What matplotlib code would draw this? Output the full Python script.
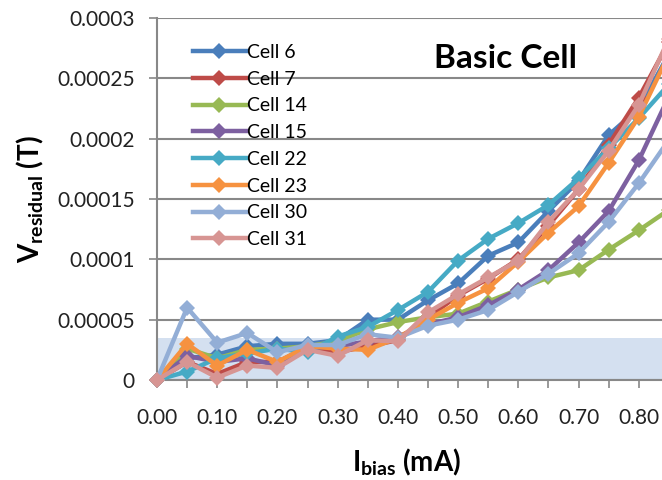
import matplotlib
matplotlib.use('Agg')
import matplotlib.pyplot as plt
import matplotlib.ticker as plticker

plt.rcParams['font.family'] = ['Lato', 'DejaVu Sans']
plt.rcParams['mathtext.fontset'] = 'custom'
plt.rcParams['mathtext.rm'] = 'Lato'
plt.rcParams['mathtext.bf'] = 'Lato:bold'

# bias current steps (mA)
ibias = [0.00, 0.05, 0.10, 0.15, 0.20, 0.25, 0.30, 0.35, 0.40,
         0.45, 0.50, 0.55, 0.60, 0.65, 0.70, 0.75, 0.80, 0.85]

# residual values in units of 1e-5 T
cell6 = [0, 1.8, 2.1, 2.8, 3.0, 3.0, 3.3, 5.0, 5.0, 6.6, 8.0, 10.3, 11.4, 14.0, 16.5, 20.3, 22.5, 27.0]
cell7 = [0, 1.5, 0.5, 1.5, 1.5, 2.7, 2.3, 2.8, 3.3, 5.2, 7.0, 8.4, 10.0, 12.8, 15.8, 19.5, 23.4, 28.0]
cell14 = [0, 2.6, 1.8, 2.5, 2.6, 2.8, 3.2, 4.2, 4.8, 5.2, 5.5, 6.5, 7.5, 8.5, 9.1, 10.8, 12.4, 14.1]
cell15 = [0, 2.0, 1.5, 1.8, 1.2, 2.6, 2.8, 3.2, 3.6, 4.6, 5.2, 6.2, 7.5, 9.1, 11.4, 14.0, 18.2, 23.5]
cell22 = [0, 0.7, 1.8, 2.2, 2.6, 2.3, 3.6, 4.4, 5.8, 7.3, 9.9, 11.7, 13.0, 14.5, 16.7, 19.2, 21.7, 24.5]
cell23 = [0, 3.0, 1.2, 2.5, 1.5, 2.8, 2.6, 2.5, 3.5, 5.0, 6.4, 7.6, 9.8, 12.2, 14.4, 18.0, 21.8, 27.0]
cell30 = [0, 6.0, 3.1, 3.9, 2.3, 2.9, 2.9, 3.8, 3.5, 4.5, 5.0, 5.8, 7.3, 8.8, 10.5, 13.1, 16.3, 19.9]
cell31 = [0, 1.5, 0.2, 1.2, 1.0, 2.5, 2.0, 3.3, 3.2, 5.6, 7.1, 8.5, 9.9, 13.1, 15.8, 19.0, 22.8, 28.3]

labels = ['Cell 6', 'Cell 7', 'Cell 14', 'Cell 15', 'Cell 22', 'Cell 23', 'Cell 30', 'Cell 31']
series = [cell6, cell7, cell14, cell15, cell22, cell23, cell30, cell31]
colors = ['#4A7EBB', '#BE4B48', '#98B954', '#7D60A0', '#46AAC5', '#F69240', '#93AED6', '#D79593']

ytick_vals = [0, 0.00005, 0.0001, 0.00015, 0.0002, 0.00025, 0.0003]
ytick_labels = ['0', '0.00005', '0.0001', '0.00015', '0.0002', '0.00025', '0.0003']
xtick_vals = [0.0, 0.1, 0.2, 0.3, 0.4, 0.5, 0.6, 0.7, 0.8]
xtick_labels = ['0.00', '0.10', '0.20', '0.30', '0.40', '0.50', '0.60', '0.70', '0.80']
threshold = 0.000035

fig = plt.figure(figsize=(6.62, 4.8), dpi=100)
# axes runs past the right edge on purpose (the original is cropped there)
ax = fig.add_axes([157/662., 100/480., 542/662., 362/480.])

grey = '#888888'
ax.axhspan(0, threshold, color='#D4E0F0', zorder=0, lw=0)

for vals, lab, col in zip(series, labels, colors):
    ax.plot(ibias, [v * 1e-5 for v in vals], color=col, lw=3.2, marker='D',
            markersize=8.5, markeredgewidth=0, label=lab, zorder=3, clip_on=False)

ax.set_xlim(0, 0.9)
ax.set_ylim(0, 0.0003)

ax.yaxis.set_major_locator(plticker.FixedLocator(ytick_vals))
ax.yaxis.set_major_formatter(plticker.FixedFormatter(ytick_labels))
ax.xaxis.set_major_locator(plticker.FixedLocator(xtick_vals))
ax.xaxis.set_major_formatter(plticker.FixedFormatter(xtick_labels))
ax.xaxis.set_minor_locator(plticker.MultipleLocator(0.05))

ax.grid(axis='y', color=grey, lw=1.5, zorder=1)
ax.set_axisbelow(True)
for s in ['top', 'right']:
    ax.spines[s].set_visible(False)
for s in ['left', 'bottom']:
    ax.spines[s].set_color(grey)
    ax.spines[s].set_linewidth(1.5)

ax.tick_params(axis='y', direction='out', length=6, width=1.2, color=grey,
               labelsize=15, labelcolor='#222222', pad=10)
ax.tick_params(axis='x', which='both', direction='out', length=6, width=1.2, color=grey,
               labelsize=15, labelcolor='#222222', pad=14)

ax.set_ylabel(r'$\mathbf{V_{residual}}$ (T)', fontsize=20, fontweight='bold', labelpad=8)
fig.text(407/662., 1 - 462/480., r'$\mathbf{I_{bias}}$ (mA)', fontsize=20,
         fontweight='bold', ha='center', va='center')

fig.text(505/662., 1 - 58/480., 'Basic Cell', fontsize=24, fontweight='bold',
         ha='center', va='center')

ax.legend(loc='upper left', bbox_to_anchor=(193/662., 1 - 44/480.),
          bbox_transform=fig.transFigure, frameon=False, fontsize=14,
          handlelength=2.7, handletextpad=0.1, labelspacing=0.5,
          borderpad=0, borderaxespad=0)

plt.savefig('out.png', dpi=100)
